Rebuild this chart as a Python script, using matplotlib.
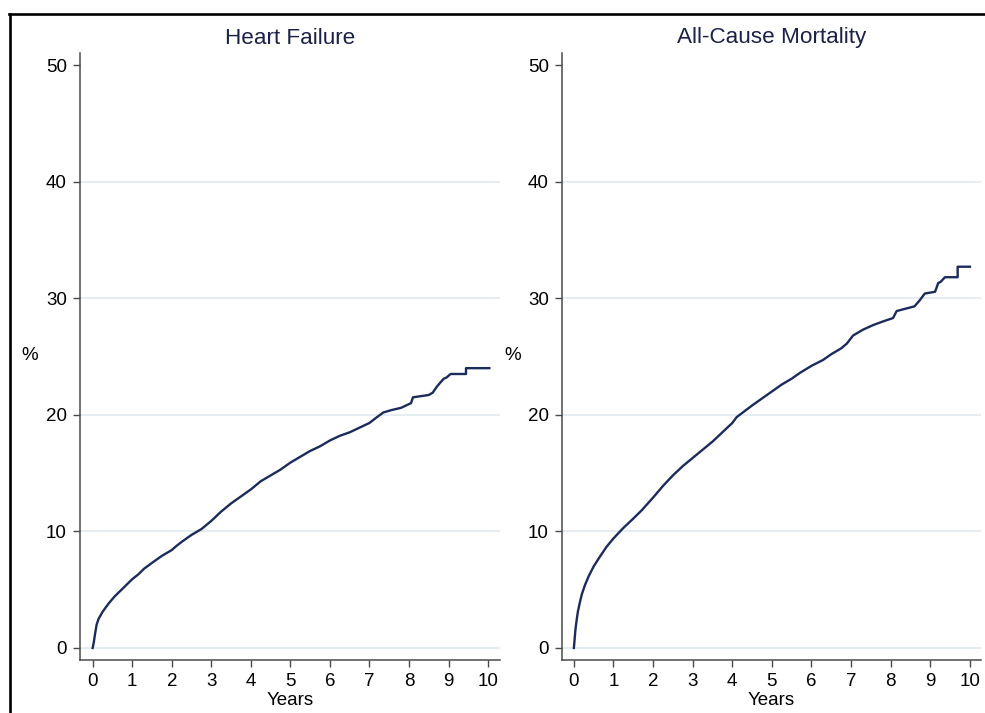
import matplotlib
matplotlib.use("Agg")
import matplotlib.pyplot as plt
from matplotlib.lines import Line2D

plt.rcParams['font.family'] = ['Liberation Sans', 'DejaVu Sans']

# ---- data (years, cumulative incidence %) ----
hf_years = [0, 0.03, 0.06, 0.10, 0.15, 0.25, 0.40, 0.55, 0.70, 0.85, 1.00, 1.15, 1.30,
            1.50, 1.75, 2.00, 2.10, 2.25, 2.50, 2.75, 3.00, 3.25, 3.50, 3.75, 4.00, 4.25,
            4.50, 4.75, 5.00, 5.25, 5.50, 5.75, 6.00, 6.25, 6.50, 6.75, 7.00, 7.15, 7.35,
            7.55, 7.80, 8.05, 8.10, 8.50, 8.60, 8.70, 8.80, 8.88, 8.95, 9.05, 9.44, 9.44,
            10.03]
hf_pct = [0, 0.5, 1.2, 2.0, 2.5, 3.1, 3.8, 4.4, 4.9, 5.4, 5.9, 6.3, 6.8,
          7.3, 7.9, 8.4, 8.7, 9.1, 9.7, 10.2, 10.9, 11.7, 12.4, 13.0, 13.6, 14.3,
          14.8, 15.3, 15.9, 16.4, 16.9, 17.3, 17.8, 18.2, 18.5, 18.9, 19.3, 19.7, 20.2,
          20.4, 20.6, 21.0, 21.5, 21.7, 21.9, 22.4, 22.8, 23.1, 23.2, 23.5, 23.5, 24.0,
          24.0]

acm_years = [0, 0.02, 0.04, 0.07, 0.10, 0.15, 0.20, 0.28, 0.38, 0.50, 0.65, 0.83, 1.00,
             1.25, 1.50, 1.71, 2.00, 2.25, 2.50, 2.75, 3.00, 3.25, 3.50, 3.75, 4.00, 4.11,
             4.50, 5.00, 5.25, 5.50, 5.71, 6.00, 6.29, 6.50, 6.75, 6.89, 7.05, 7.30, 7.56,
             7.80, 8.06, 8.15, 8.60, 8.74, 8.86, 9.12, 9.20, 9.26, 9.37, 9.69, 9.69,
             10.00]
acm_pct = [0, 0.8, 1.6, 2.4, 3.1, 3.9, 4.6, 5.4, 6.2, 7.0, 7.8, 8.7, 9.4,
           10.3, 11.1, 11.8, 12.9, 13.9, 14.8, 15.6, 16.3, 17.0, 17.7, 18.5, 19.3, 19.8,
           20.8, 22.0, 22.6, 23.1, 23.6, 24.2, 24.7, 25.2, 25.7, 26.1, 26.8, 27.3, 27.7,
           28.0, 28.3, 28.9, 29.3, 29.85, 30.4, 30.55, 31.3, 31.4, 31.8, 31.8, 32.7,
           32.7]

titles = ["Heart Failure", "All-Cause Mortality"]
x_ticks = list(range(0, 11))
y_ticks = [0, 10, 20, 30, 40, 50]
grid_levels = [0, 10, 20, 30, 40]

W, H = 985, 713
fig = plt.figure(figsize=(W / 100, H / 100), dpi=100)

line_color = '#1b2b5b'
axis_color = '#4a4a4a'
grid_color = '#e4ecf1'

panels = [
    (80, 500, (-0.32, 10.30), hf_years, hf_pct, 30),
    (562, 981, (-0.30, 10.28), acm_years, acm_pct, 513),
]
top_px, bot_px = 53, 660

for i, (x0, x1, xl, xs, ys, pct_x) in enumerate(panels):
    ax = fig.add_axes([x0 / W, 1 - bot_px / H, (x1 - x0) / W, (bot_px - top_px) / H])
    ax.set_xlim(*xl)
    ax.set_ylim(-1.03, 51.03)
    for g in grid_levels:
        ax.axhline(g, color=grid_color, lw=1.3, zorder=0)
    ax.plot(xs, ys, color=line_color, lw=1.7, zorder=3)
    ax.set_xticks(x_ticks)
    ax.set_yticks(y_ticks)
    for s in ['top', 'right']:
        ax.spines[s].set_visible(False)
    for s in ['left', 'bottom']:
        ax.spines[s].set_color(axis_color)
        ax.spines[s].set_linewidth(1.1)
    ax.tick_params(axis='both', direction='out', length=5, width=1.0, color=axis_color,
                   labelsize=13.5, labelcolor='black', pad=4.5)
    ax.set_xlabel("Years", fontsize=13.5, labelpad=1.5)
    fig.text((x0 + x1) / 2 / W, 1 - 38 / H, titles[i], ha='center', va='center',
             fontsize=16.2, color='#1c2148')
    fig.text(pct_x / W, 1 - 355 / H, "%", ha='center', va='center', fontsize=13.5)

# outer frame (top and left edges visible)
fig.add_artist(Line2D([9.7 / W, 9.7 / W], [0, 1 - 13.8 / H], transform=fig.transFigure,
                      color='black', lw=1.9))
fig.add_artist(Line2D([8.8 / W, 1], [1 - 13.8 / H, 1 - 13.8 / H], transform=fig.transFigure,
                      color='black', lw=1.9))

fig.savefig("out.png", dpi=100)
